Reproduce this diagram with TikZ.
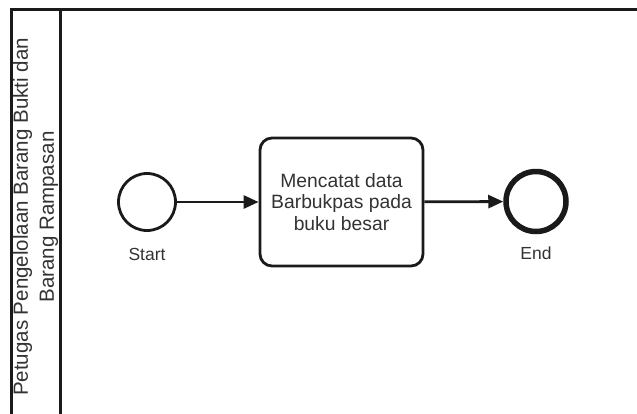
\documentclass[tikz,border=0pt]{standalone}
\usepackage{fontspec}
\setmainfont{Liberation Sans}
\usetikzlibrary{arrows.meta}
\definecolor{ln}{HTML}{1A1A1A}
\definecolor{tx}{HTML}{333333}
\begin{document}
\begin{tikzpicture}[x=1pt,y=-1pt,
  lane/.style={draw=ln,line width=3pt},
  evstart/.style={circle,draw=ln,line width=2.8pt,fill=white,minimum size=57pt,inner sep=0pt},
  evend/.style={circle,draw=ln,line width=5.5pt,fill=white,minimum size=60pt,inner sep=0pt},
  taskbox/.style={rectangle,rounded corners=12pt,draw=ln,line width=2.8pt,fill=white,minimum width=163pt,minimum height=128pt,align=center,text=tx,font=\fontsize{19.3}{21.7}\selectfont},
  lbl/.style={text=tx,font=\fontsize{17.5}{20}\selectfont,inner sep=0pt},
  flow/.style={draw=ln,line width=2.8pt,-{Triangle[length=15pt,width=13pt]}},
  lanetext/.style={text=tx,font=\fontsize{20.5}{26}\selectfont,align=center,rotate=90}
]
\useasboundingbox (0,0) rectangle (637,413);
\fill[white] (0,0) rectangle (637,413);
% swimlane
\coordinate (tl) at (11,9.5);
\coordinate (tr) at (640,9.5);
\coordinate (bl) at (11,416);
\coordinate (dt) at (60.5,9.5);
\coordinate (db) at (60.5,416);
\draw[lane] (bl) -- (tl) -- (tr);
\draw[lane] (dt) -- (db);
\node[lanetext] (lane) at (35.5,217) {Petugas Pengelolaan Barang Bukti dan\\Barang Rampasan};
% nodes
\node[evstart] (start) at (147,202) {};
\node[lbl] (startl) at (147,254) {Start};
\node[taskbox] (task) at (341.5,202) {Mencatat data\\Barbukpas pada\\buku besar};
\node[evend] (end) at (536,201.5) {};
\node[lbl] (endl) at (536,253) {End};
% flows
\draw[flow] (start) -- (task);
\draw[flow] (task) -- (end);
\end{tikzpicture}
\end{document}
